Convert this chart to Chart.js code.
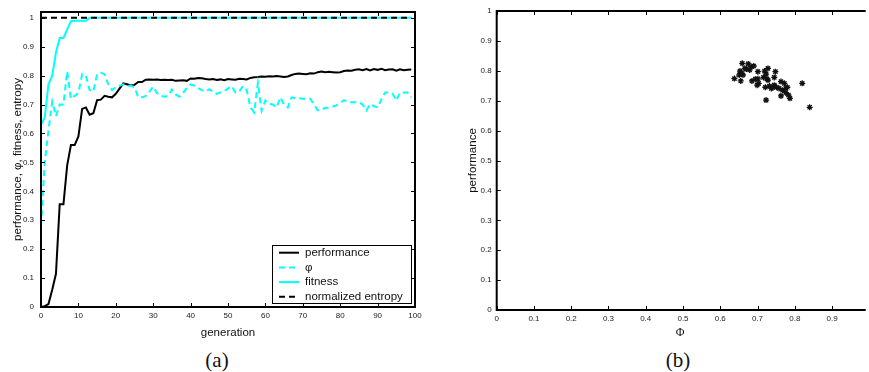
<!DOCTYPE html>
<html>
<head>
<meta charset="utf-8">
<script src="https://cdn.jsdelivr.net/npm/chart.js@4.4.1/dist/chart.umd.min.js"></script>
<style>
  body { margin: 0; background: #fff; width: 869px; height: 372px; overflow: hidden; position: relative; }
  #evo { position: absolute; left: 0; top: 0; }
  #scatter { position: absolute; left: 440px; top: 0; }
  .cap { position: absolute; top: 348px; font-family: 'Liberation Serif', 'DejaVu Serif', serif; font-size: 21px; color: #111; transform: translateX(-50%); }
</style>
</head>
<body>
<canvas id="evo" width="430" height="340"></canvas>
<canvas id="scatter" width="429" height="340"></canvas>
<div class="cap" style="left:217px">(a)</div>
<div class="cap" style="left:678px">(b)</div>
<script>
// ---- evolution run: one value per generation ----
const generations = [0,1,2,3,4,5,6,7,8,9,10,11,12,13,14,15,16,17,18,19,20,21,22,23,24,25,26,27,28,29,30,31,32,33,34,35,36,37,38,39,40,41,42,43,44,45,46,47,48,49,50,51,52,53,54,55,56,57,58,59,60,61,62,63,64,65,66,67,68,69,70,71,72,73,74,75,76,77,78,79,80,81,82,83,84,85,86,87,88,89,90,91,92,93,94,95,96,97,98,99];

const performance = [0,0.003,0.01,0.06,0.115,0.355,0.355,0.49,0.56,0.56,0.59,0.685,0.69,0.665,0.67,0.715,0.717,0.73,0.727,0.725,
  0.737,0.755,0.773,0.77,0.766,0.768,0.778,0.778,0.786,0.787,0.786,0.787,0.785,0.786,0.785,0.786,0.782,0.783,0.784,0.782,
  0.79,0.789,0.792,0.791,0.788,0.787,0.788,0.785,0.787,0.784,0.788,0.787,0.786,0.789,0.788,0.787,0.792,0.794,0.795,0.797,
  0.796,0.798,0.797,0.799,0.797,0.795,0.797,0.802,0.806,0.807,0.806,0.805,0.808,0.807,0.812,0.814,0.812,0.813,0.812,0.811,
  0.812,0.816,0.818,0.817,0.82,0.822,0.819,0.823,0.818,0.823,0.82,0.824,0.819,0.821,0.822,0.817,0.822,0.819,0.82,0.821];

const phi = [0.28,0.5,0.61,0.71,0.66,0.7,0.7,0.815,0.72,0.73,0.74,0.805,0.8,0.75,0.745,0.805,0.81,0.805,0.77,0.75,
  0.76,0.765,0.77,0.765,0.765,0.76,0.725,0.725,0.73,0.745,0.762,0.74,0.73,0.727,0.73,0.752,0.735,0.727,0.74,0.757,
  0.77,0.765,0.757,0.75,0.745,0.753,0.745,0.737,0.742,0.747,0.755,0.764,0.742,0.745,0.764,0.75,0.69,0.673,0.775,0.679,
  0.714,0.702,0.7,0.69,0.725,0.7,0.69,0.725,0.722,0.722,0.72,0.72,0.72,0.7,0.68,0.683,0.688,0.69,0.693,0.697,
  0.705,0.715,0.71,0.708,0.708,0.708,0.7,0.679,0.702,0.695,0.69,0.718,0.742,0.742,0.738,0.714,0.742,0.742,0.742,0.725];

const fitness = [0.63,0.655,0.77,0.8,0.88,0.93,0.93,0.96,0.988,0.99,0.99,0.99,0.99,1,1,1,1,1,1,1,
  1,1,1,1,1,1,1,1,1,1,1,1,1,1,1,1,1,1,1,1,1,1,1,1,1,1,1,1,1,1,1,1,1,1,1,1,1,1,1,1,
  1,1,1,1,1,1,1,1,1,1,1,1,1,1,1,1,1,1,1,1,1,1,1,1,1,1,1,1,1,1,1,1,1,1,1,1,1,1,1,1];

const entropy = [1,1,1,1,1,1,1,1,1,1,1,1,1,1,1,1,1,1,1,1,1,1,1,1,1,1,1,1,1,1,1,1,1,1,1,1,1,1,1,1,
  1,1,1,1,1,1,1,1,1,1,1,1,1,1,1,1,1,1,1,1,1,1,1,1,1,1,1,1,1,1,1,1,1,1,1,1,1,1,1,1,
  1,1,1,1,1,1,1,1,1,1,1,1,1,1,1,1,1,1,1,1];

// ---- final population: Phi vs performance ----
const popPhi = [0.638,0.659,0.653,0.657,0.651,0.655,0.661,0.670,0.675,0.679,0.683,0.690,0.685,0.701,0.701,0.703,0.699,
  0.719,0.728,0.723,0.725,0.728,0.721,0.732,0.741,0.745,0.748,0.745,0.751,0.758,0.763,0.772,0.776,0.780,0.776,0.783,
  0.787,0.763,0.723,0.820,0.840,0.737,0.666,0.694,0.716,0.767];
const popPerf = [0.774,0.825,0.799,0.792,0.786,0.766,0.786,0.806,0.823,0.803,0.814,0.816,0.766,0.797,0.773,0.758,0.752,
  0.799,0.808,0.789,0.773,0.769,0.745,0.749,0.744,0.752,0.797,0.778,0.745,0.741,0.764,0.758,0.741,0.745,0.727,0.719,
  0.708,0.716,0.702,0.758,0.678,0.741,0.808,0.772,0.778,0.735];

const cyan = '#00ffff';
const fam = "'Liberation Sans', Arial, Helvetica, sans-serif";
const tickFont = { family: fam, size: 8 };
const titleFont = { family: fam, size: 11.5 };

const trimTick = v => String(+Number(v).toFixed(2));
const pts = arr => generations.map((g, i) => ({ x: g, y: arr[i] }));

// box frame with inward tick marks
const boxAxes = {
  id: 'boxAxes',
  afterDraw(chart, args, opts) {
    const { ctx, chartArea: a, scales } = chart;
    const t = 4;
    ctx.save();
    ctx.strokeStyle = '#000';
    ctx.lineWidth = 1;
    ctx.beginPath();
    scales.x.ticks.forEach(tk => {
      const px = Math.round(scales.x.getPixelForValue(tk.value)) + 0.5;
      ctx.moveTo(px, a.bottom); ctx.lineTo(px, a.bottom - t);
      ctx.moveTo(px, a.top); ctx.lineTo(px, a.top + t);
    });
    scales.y.ticks.forEach(tk => {
      const py = Math.round(scales.y.getPixelForValue(tk.value)) + 0.5;
      ctx.moveTo(a.left, py); ctx.lineTo(a.left + t, py);
      if (opts.right) { ctx.moveTo(a.right, py); ctx.lineTo(a.right - t, py); }
    });
    ctx.stroke();
    ctx.lineWidth = 2;
    ctx.beginPath();
    if (opts.right) {
      ctx.rect(a.left, a.top, a.right - a.left, a.bottom - a.top);
    } else {
      ctx.moveTo(a.right + 2, a.top); ctx.lineTo(a.left, a.top);
      ctx.lineTo(a.left, a.bottom); ctx.lineTo(a.right + 2, a.bottom);
    }
    ctx.stroke();
    ctx.restore();
  }
};

// legend box in the lower right corner of the plot area
const boxLegend = {
  id: 'boxLegend',
  afterDraw(chart) {
    const { ctx, chartArea: a } = chart;
    const w = 139, h = 58, rowH = 14.7;
    const x0 = a.right - 4 - w, y0 = a.bottom - 4 - h;
    ctx.save();
    ctx.fillStyle = '#fff';
    ctx.fillRect(x0, y0, w, h);
    ctx.strokeStyle = '#000';
    ctx.lineWidth = 1;
    ctx.strokeRect(x0 + 0.5, y0 + 0.5, w, h);
    ctx.font = '11.5px ' + fam;
    ctx.textBaseline = 'middle';
    chart.data.datasets.forEach((ds, i) => {
      const y = y0 + 7.7 + i * rowH;
      ctx.strokeStyle = ds.borderColor;
      ctx.lineWidth = ds.borderWidth;
      ctx.setLineDash(ds.borderDash || []);
      ctx.beginPath();
      ctx.moveTo(x0 + 7, y); ctx.lineTo(x0 + 27, y);
      ctx.stroke();
      ctx.setLineDash([]);
      ctx.fillStyle = '#111';
      ctx.fillText(ds.label, x0 + 33, y);
    });
    ctx.restore();
  }
};

new Chart(document.getElementById('evo'), {
  type: 'line',
  data: {
    datasets: [
      { label: 'performance', data: pts(performance), borderColor: '#000', borderWidth: 2, order: 4 },
      { label: 'φ', data: pts(phi), borderColor: cyan, borderWidth: 2, borderDash: [6, 4], order: 3 },
      { label: 'fitness', data: pts(fitness), borderColor: cyan, borderWidth: 2, order: 2 },
      { label: 'normalized entropy', data: pts(entropy), borderColor: '#000', borderWidth: 2, borderDash: [6, 4], order: 1 }
    ]
  },
  options: {
    responsive: false,
    animation: false,
    layout: { padding: { left: 0, right: 15, top: 12, bottom: 0 } },
    elements: { point: { radius: 0 }, line: { tension: 0, fill: false } },
    plugins: { legend: { display: false }, tooltip: { enabled: false }, boxAxes: { right: true } },
    scales: {
      x: {
        type: 'linear', min: 0, max: 100,
        ticks: { stepSize: 10, font: tickFont, color: '#222', padding: 4, maxRotation: 0 },
        grid: { display: false, drawTicks: false },
        border: { display: false },
        title: { display: true, text: 'generation', font: titleFont, color: '#111', padding: { top: 6.4, bottom: 0 } },
        afterFit: s => { s.height = 33; }
      },
      y: {
        min: 0, max: 1.02,
        ticks: { stepSize: 0.1, includeBounds: false, callback: v => trimTick(v), font: tickFont, color: '#222', padding: 7 },
        grid: { display: false, drawTicks: false },
        border: { display: false },
        title: { display: true, text: 'performance, φ, fitness, entropy', font: titleFont, color: '#111', padding: { top: 11, bottom: 0 } },
        afterFit: s => { s.width = 41; }
      }
    }
  },
  plugins: [boxAxes, boxLegend]
});

new Chart(document.getElementById('scatter'), {
  type: 'scatter',
  data: {
    datasets: [{
      label: 'population',
      data: popPhi.map((p, i) => ({ x: p, y: popPerf[i] })),
      pointStyle: 'star',
      radius: 3,
      borderColor: '#111',
      backgroundColor: '#111',
      borderWidth: 1.3
    }]
  },
  options: {
    responsive: false,
    animation: false,
    layout: { padding: { left: 0, right: 0, top: 11, bottom: 0 } },
    plugins: { legend: { display: false }, tooltip: { enabled: false }, boxAxes: { right: false } },
    scales: {
      x: {
        type: 'linear', min: 0, max: 0.985,
        ticks: { stepSize: 0.1, includeBounds: false, callback: v => trimTick(v), font: tickFont, color: '#222', padding: 4, maxRotation: 0 },
        grid: { display: false, drawTicks: false },
        border: { display: false },
        title: { display: true, text: 'Φ', font: { family: "'Liberation Serif', serif", size: 12 }, color: '#111', padding: { top: 4, bottom: 0 } },
        afterFit: s => { s.height = 30; }
      },
      y: {
        min: 0, max: 1,
        ticks: { stepSize: 0.1, callback: v => trimTick(v), font: tickFont, color: '#222', padding: 5 },
        grid: { display: false, drawTicks: false },
        border: { display: false },
        title: { display: true, text: 'performance', font: titleFont, color: '#111', padding: { top: 26.4, bottom: 0 } },
        afterFit: s => { s.width = 56.7; }
      }
    }
  },
  plugins: [boxAxes]
});
</script>
</body>
</html>
